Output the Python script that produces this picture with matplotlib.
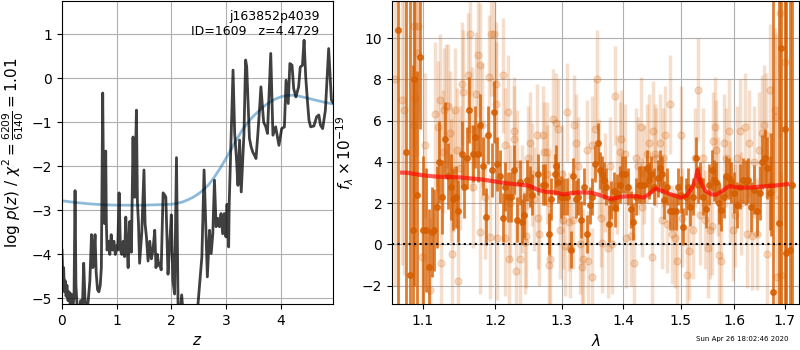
import numpy as np
import matplotlib
matplotlib.use("Agg")
import matplotlib.pyplot as plt
from matplotlib.ticker import FixedLocator, FixedFormatter, NullLocator

# ---------------- left panel: log p(z) ----------------
z_grid = [0.000, 0.015, 0.030, 0.045, 0.060, 0.075, 0.090, 0.110, 0.130, 0.150,
          0.170, 0.200, 0.220, 0.239, 0.255, 0.280, 0.310, 0.340, 0.370, 0.397,
          0.420, 0.450, 0.480, 0.510, 0.540, 0.565, 0.585, 0.605, 0.625, 0.650,
          0.675, 0.700, 0.720, 0.745, 0.765, 0.780, 0.800, 0.812, 0.825, 0.850,
          0.875, 0.900, 0.925, 0.950, 0.975, 1.000, 1.020, 1.045, 1.070, 1.095,
          1.120, 1.145, 1.167, 1.190, 1.210, 1.240, 1.270, 1.300, 1.315, 1.330,
          1.362, 1.380, 1.400, 1.420, 1.460, 1.500, 1.520, 1.545, 1.575, 1.606,
          1.636, 1.665, 1.697, 1.720, 1.745, 1.770, 1.790, 1.815, 1.850, 1.880,
          1.900, 1.940, 1.970, 2.000, 2.030, 2.060, 2.095, 2.125, 2.160, 2.190,
          2.220, 2.300, 2.400, 2.490, 2.560, 2.600, 2.660, 2.700, 2.730, 2.760,
          2.790, 2.820, 2.850, 2.880, 2.910, 2.940, 2.970, 3.000, 3.020, 3.050,
          3.060, 3.130, 3.160, 3.190, 3.220, 3.250, 3.280, 3.330, 3.360, 3.380,
          3.430, 3.460, 3.490, 3.520, 3.550, 3.580, 3.610, 3.640, 3.690, 3.730,
          3.760, 3.820, 3.860, 3.910, 3.970, 4.020, 4.070, 4.100, 4.140, 4.170,
          4.210, 4.240, 4.280, 4.330, 4.360, 4.400, 4.430, 4.460, 4.490, 4.520,
          4.550, 4.610, 4.660, 4.700, 4.730, 4.770, 4.820, 4.880, 4.930, 4.960]
log_pz = [-3.90, -4.55, -4.30, -4.85, -4.60, -4.95, -4.70, -5.05, -4.85, -5.15,
          -4.90, -5.20, -4.95, -2.55, -4.70, -5.25, -5.35, -5.05, -5.35, -4.20,
          -5.00, -5.35, -5.05, -4.60, -3.55, -4.30, -4.00, -3.55, -4.40, -4.80,
          -4.85, -4.70, -4.30, -0.33, -3.20, -3.30, -1.65, -3.30, -3.90, -3.70,
          -4.00, -3.55, -3.90, -3.70, -4.00, -3.80, -3.90, -2.60, -3.90, -4.00,
          -3.70, -4.05, -3.15, -3.80, -4.30, -3.25, -3.95, -1.33, -2.60, -2.70,
          -0.72, -2.80, -3.30, -4.20, -3.50, -2.08, -3.30, -3.60, -4.15, -3.70,
          -4.10, -3.90, -3.45, -4.30, -4.00, -4.25, -4.20, -4.35, -2.60, -2.65,
          -2.70, -4.45, -3.80, -3.10, -4.60, -4.90, -1.80, -5.30, -5.40, -4.92,
          -5.40, -5.60, -5.60, -5.11, -4.05, -2.08, -4.51, -3.45, -3.98, -3.53,
          -2.31, -3.37, -3.18, -3.37, -3.07, -3.53, -3.07, -3.60, -2.86, -3.83,
          -2.84, 0.19, -1.25, -1.78, -2.43, -1.40, -2.58, -1.25, 0.42, 0.27,
          -1.36, -1.55, -1.67, -1.74, -1.82, -1.33, -0.80, -0.19, -0.99, -1.10,
          -1.25, 0.57, -1.29, -1.10, -1.52, -1.14, -1.10, -0.04, -0.57, 0.34,
          0.30, -0.23, -0.42, -0.19, 0.26, 0.30, 0.87, 0.04, -0.49, -0.95,
          -1.10, -1.08, -0.87, -0.83, -1.06, -1.14, -0.72, 0.68, -0.49, -0.55]

z_prior = [0.00, 0.25, 0.50, 0.75, 1.00, 1.25, 1.50, 1.75, 2.00, 2.10, 2.20,
           2.30, 2.40, 2.50, 2.60, 2.70, 2.80, 2.90, 3.00, 3.10, 3.20, 3.30,
           3.40, 3.50, 3.60, 3.70, 3.80, 3.90, 4.00, 4.10, 4.20, 4.30, 4.40,
           4.50, 4.60, 4.70, 4.80, 4.96]
log_prior = [-2.78, -2.82, -2.85, -2.87, -2.88, -2.88, -2.88, -2.87, -2.86, -2.84,
             -2.81, -2.76, -2.70, -2.62, -2.52, -2.39, -2.22, -2.03, -1.82, -1.60,
             -1.38, -1.17, -1.00, -0.86, -0.74, -0.63, -0.54, -0.47, -0.42, -0.39,
             -0.38, -0.39, -0.42, -0.45, -0.48, -0.51, -0.54, -0.58]

# ---------------- right panel: spectrum ----------------
lam_a = [1.068, 1.078, 1.083, 1.087, 1.089, 1.093, 1.097, 1.101, 1.104, 1.108,
         1.112, 1.115, 1.119, 1.122, 1.126, 1.130, 1.134, 1.138, 1.141, 1.145,
         1.148, 1.153, 1.156, 1.160, 1.163, 1.168, 1.171, 1.176, 1.179, 1.183,
         1.187, 1.190, 1.195, 1.199, 1.203, 1.207, 1.211, 1.215, 1.219, 1.223,
         1.227, 1.232, 1.236, 1.239, 1.243, 1.247,
         1.251, 1.255, 1.264, 1.272, 1.275, 1.280, 1.283, 1.289, 1.292, 1.295,
         1.299, 1.304, 1.308, 1.315, 1.318, 1.322, 1.326, 1.331, 1.336, 1.341,
         1.345, 1.349, 1.353, 1.358, 1.361, 1.365, 1.368, 1.372, 1.377, 1.380,
         1.384, 1.386, 1.390, 1.394, 1.398, 1.403, 1.408, 1.413, 1.417, 1.422,
         1.427, 1.431, 1.436, 1.440, 1.444, 1.448, 1.453, 1.459, 1.463,
         1.466, 1.470, 1.476, 1.481, 1.487, 1.491, 1.496, 1.500, 1.505, 1.509,
         1.514, 1.518, 1.523, 1.528, 1.532, 1.536, 1.541, 1.547, 1.552, 1.557,
         1.561, 1.566, 1.571, 1.575, 1.580, 1.585, 1.589, 1.593, 1.599, 1.605,
         1.611, 1.617, 1.622, 1.627, 1.633, 1.638, 1.644, 1.650, 1.655, 1.660,
         1.664, 1.670, 1.673, 1.676, 1.688, 1.692, 1.700, 1.703, 1.710, 1.715]
flux_a = [10.4, 4.5, -1.5, 0.7, 8.0, 2.4, 9.1, 0.7, 0.7, -1.1,
          0.6, 0.7, 1.8, 4.0, 2.3, 5.1, 3.3, 2.8, 2.2, 2.3,
          1.6, 4.4, 2.8, 4.2, 6.5, 4.4, 5.2, 4.4, 5.8, 3.8,
          1.35, 5.3, 3.6, 6.4, 3.9, 3.3, 1.3, 2.8, 2.3, 2.3,
          3.6, 1.2, 3.0, 1.1, 1.4, 3.1,
          2.8, 2.4, 3.4, 2.9, 2.9, 0.5, 2.2, 3.4, 3.8, 3.0,
          2.3, 2.3, 2.3, -0.25, 3.3, 2.2, 2.3, 1.2, 2.8, 0.5,
          1.9, 2.3, 3.9, 4.9, 3.6, 3.4, 3.1, 2.8, 1.0, 2.15,
          2.6, 1.75, 2.5, 2.9, 3.4, 3.4, 2.8, 1.7, 1.1, 2.3,
          2.9, 2.9, 2.9, 3.7, 3.1, 3.4, 2.8, 3.2, 3.7,
          3.4, 2.15, 2.8, 1.6, 1.6, 1.6, 2.8, 2.4, 0.85, 2.3,
          2.8, 1.8, 2.3, 4.2, 2.9, 3.1, 2.3, 1.7, 2.9, 3.6,
          3.1, 3.0, 2.0, 1.65, 2.3, 3.3, 3.2, 3.0, 2.5, 1.9,
          2.8, 3.1, 3.0, 3.1, 1.8, 2.65, 1.6, 2.5, 4.0, 4.2,
          3.7, 2.5, 2.9, -2.3, 1.05, 9.5, 5.6, -0.44, -0.28, 2.9]
err_a = [20.0, 15.0, 15.0, 8.0, 10.0, 6.0, 3.5, 3.6, 3.0, 2.8,
         2.2, 2.0, 2.0, 2.0, 1.8, 1.8, 1.6, 1.6, 1.5, 1.5,
         1.5, 1.6, 1.5, 1.5, 1.6, 1.4, 1.5, 1.4, 1.5, 1.4,
         1.4, 1.4, 1.3, 1.5, 1.3, 1.3, 1.2, 1.2, 1.2, 1.2,
         1.2, 1.1, 1.1, 1.1, 1.1, 1.0,
         1.0, 1.0, 1.0, 1.0, 1.0, 1.0, 1.0, 1.0, 1.0, 1.0,
         1.0, 0.9, 0.9, 0.9, 0.9, 0.9, 0.9, 0.9, 0.9, 0.9,
         0.9, 0.9, 0.9, 1.0, 0.9, 0.9, 0.9, 0.9, 0.9, 0.9,
         0.9, 0.9, 0.9, 0.9, 0.9, 0.9, 0.9, 0.9, 0.9, 0.9,
         0.9, 0.9, 0.9, 0.9, 0.9, 0.9, 0.9, 0.9, 0.9,
         0.9, 0.9, 0.9, 0.9, 0.9, 0.9, 0.9, 0.9, 0.9, 0.9,
         0.9, 0.9, 0.9, 1.0, 0.9, 0.9, 0.9, 0.9, 1.0, 1.0,
         1.0, 1.0, 1.0, 1.0, 1.0, 1.0, 1.0, 1.0, 1.0, 1.1,
         1.1, 1.1, 1.1, 1.1, 1.2, 1.2, 1.2, 1.3, 1.3, 1.4,
         1.5, 1.8, 2.5, 15.0, 12.0, 15.0, 20.0, 15.0, 20.0, 20.0]

lam_b = [1.064, 1.073, 1.076, 1.088, 1.089, 1.090, 1.093, 1.094, 1.099, 1.103,
         1.110, 1.117, 1.121, 1.123, 1.124, 1.127, 1.128, 1.131, 1.134, 1.137,
         1.138, 1.139, 1.141, 1.144, 1.146, 1.148, 1.151, 1.153, 1.155, 1.162,
         1.165, 1.167, 1.169, 1.173, 1.176, 1.178, 1.179, 1.181, 1.186, 1.192,
         1.193, 1.194, 1.199, 1.201, 1.202, 1.203, 1.212, 1.214, 1.215, 1.219,
         1.220, 1.222, 1.227, 1.228, 1.230, 1.232, 1.237, 1.239, 1.244, 1.246,
         1.248, 1.252, 1.254, 1.257, 1.262, 1.263, 1.265, 1.272, 1.273, 1.277,
         1.278, 1.280, 1.281, 1.282, 1.287, 1.292, 1.295, 1.297, 1.300, 1.303,
         1.306, 1.309, 1.312, 1.313, 1.318, 1.320, 1.322, 1.326, 1.329, 1.332,
         1.334, 1.340, 1.342, 1.348, 1.349, 1.354, 1.356, 1.360, 1.363, 1.365,
         1.369, 1.375, 1.378, 1.382, 1.387, 1.390, 1.394, 1.397, 1.403, 1.405,
         1.414, 1.418, 1.422, 1.425, 1.430, 1.432, 1.435, 1.440, 1.444, 1.449,
         1.451, 1.454, 1.457, 1.463, 1.466, 1.468, 1.472, 1.476, 1.481, 1.485,
         1.490, 1.494, 1.500, 1.502, 1.512, 1.516, 1.523, 1.527, 1.532, 1.535,
         1.541, 1.544, 1.551, 1.554, 1.557, 1.560, 1.563, 1.566, 1.570, 1.571,
         1.574, 1.580, 1.584, 1.589, 1.592, 1.597, 1.601, 1.606, 1.611, 1.614,
         1.621, 1.624, 1.629, 1.634, 1.639, 1.644, 1.649, 1.654, 1.658, 1.662,
         1.665, 1.670, 1.681, 1.683, 1.684, 1.691, 1.693, 1.700]
flux_b = [8.0, 7.0, 6.5, 10.6, 5.8, 7.1, 9.3, 10.6, -0.6, 4.8,
          -2.2, 6.3, 5.7, 7.0, -0.9, 4.5, 6.5, 6.7, 6.7, 5.4,
          3.1, -0.45, 3.6, 6.5, 4.6, -1.8, 3.7, 7.8, 7.4, 8.2,
          10.2, 5.6, 2.8, 7.3, 9.2, 8.7, 0.6, 5.8, 2.3, 8.1,
          0.35, 10.2, 10.2, 6.8, 7.8, 0.3, 8.2, 4.8, 0.3, 6.4,
          -0.7, 2.0, 5.1, 5.5, -1.3, 3.9, -0.7, 2.2, 0.1, 0.4,
          4.2, 4.9, 3.4, 2.2, 5.3, 1.3, 0.5, 5.3, 4.5, 4.5,
          3.4, 2.0, -1.0, -0.7, 6.1, 5.9, 5.6, 0.7, 3.4, 1.2,
          -0.1, 6.4, 1.1, -0.2, 1.2, 5.8, 4.9, 3.8, 0.0, -1.1,
          -0.7, 4.6, -0.8, 4.8, -1.6, 5.6, 8.0, 3.7, 1.3, 0.05,
          3.0, -0.2, 3.8, 0.0, 7.2, 2.9, 4.5, 5.1, 4.4, 0.3,
          0.4, -0.9, 4.2, 3.8, 5.7, 1.8, 3.4, 4.4, 4.9, -0.6,
          5.5, 4.4, 4.2, 4.9, 1.2, 4.2, 5.3, 1.0, 6.8, 0.5,
          0.3, -0.8, 5.3, 1.3, -1.5, -0.3, 0.7, 4.2, 7.5, 1.4,
          4.2, 1.2, -0.2, 0.7, 0.9, 5.0, 5.7, 4.6, 2.8, -0.5,
          -0.8, 4.9, 4.2, 5.5, 2.5, 0.7, 1.4, 4.2, 5.5, 2.0,
          5.7, 0.5, 4.9, 0.4, 4.0, 0.5, 4.6, 5.4, 5.8, 5.3,
          -0.45, 7.5, 6.5, 6.2, -1.6, 11.2, -1.5, 8.85]
err_b = [10.0, 8.0, 8.0, 6.0, 6.0, 5.0, 5.0, 4.5, 4.0, 3.5,
         3.5, 3.5, 3.2, 3.2, 3.0, 3.0, 3.0, 3.0, 3.0, 3.0,
         3.0, 3.0, 3.0, 3.0, 3.0, 3.0, 3.0, 3.0, 3.0, 3.0,
         3.0, 3.0, 3.0, 3.0, 3.0, 3.0, 3.0, 3.0, 3.0, 3.0,
         3.0, 3.0, 3.0, 3.0, 3.0, 3.0, 2.8, 2.8, 2.8, 2.8,
         2.8, 2.8, 2.6, 2.6, 2.6, 2.6, 2.6, 2.6, 2.5, 2.5,
         2.5, 2.5, 2.5, 2.5, 2.5, 2.5, 2.5, 2.4, 2.4, 2.4,
         2.4, 2.4, 2.4, 2.4, 2.4, 2.4, 2.4, 2.4, 2.4, 2.4,
         2.4, 2.4, 2.4, 2.4, 2.4, 2.4, 2.4, 2.4, 2.4, 2.4,
         2.4, 2.4, 2.4, 2.4, 2.4, 2.4, 2.4, 2.4, 2.4, 2.4,
         2.4, 2.4, 2.4, 2.4, 2.4, 2.4, 2.4, 2.4, 2.4, 2.4,
         2.4, 2.4, 2.4, 2.4, 2.4, 2.4, 2.4, 2.4, 2.4, 2.4,
         2.4, 2.4, 2.4, 2.4, 2.4, 2.4, 2.4, 2.4, 2.4, 2.4,
         2.4, 2.4, 2.4, 2.4, 2.4, 2.4, 2.4, 2.4, 2.5, 2.4,
         2.4, 2.4, 2.4, 2.4, 2.4, 2.4, 2.4, 2.4, 2.4, 2.4,
         2.4, 2.4, 2.4, 2.5, 2.5, 2.5, 2.5, 2.5, 2.5, 2.5,
         2.6, 2.6, 2.6, 2.6, 2.7, 2.7, 2.8, 2.8, 2.9, 3.0,
         3.0, 3.2, 4.0, 4.0, 4.0, 6.0, 5.0, 8.0]

lam_model = [1.073, 1.080, 1.100, 1.120, 1.150, 1.180, 1.200, 1.220, 1.250, 1.263,
             1.275, 1.290, 1.303, 1.318, 1.334, 1.348, 1.360, 1.380, 1.400, 1.420,
             1.435, 1.445, 1.455, 1.465, 1.480, 1.500, 1.510, 1.520, 1.526, 1.531,
             1.536, 1.545, 1.556, 1.565, 1.575, 1.590, 1.610, 1.630, 1.650, 1.680,
             1.705]
flux_model = [3.48, 3.47, 3.35, 3.28, 3.25, 3.15, 3.05, 2.95, 2.85, 2.65,
              2.55, 2.52, 2.42, 2.50, 2.52, 2.50, 2.40, 2.20, 2.32, 2.34,
              2.27, 2.45, 2.70, 2.62, 2.45, 2.26, 2.35, 2.70, 3.05, 3.60,
              3.05, 2.60, 2.43, 2.40, 2.55, 2.82, 2.75, 2.75, 2.80, 2.85,
              2.92]

xticks_right = [1.1, 1.2, 1.3, 1.4, 1.5, 1.6, 1.7]
xtick_labels_right = ['1.1', '1.2', '1.3', '1.4', '1.5', '1.6', '1.7']

GRISM_COLOR = (0.8352941176470589, 0.3686274509803922, 0.0)

fig = plt.figure(figsize=(8, 3.5), dpi=100)
ax1 = fig.add_axes([0.0775, 0.131, 0.3388, 0.866])
ax2 = fig.add_axes([0.490, 0.131, 0.509, 0.866])

# left panel
ax1.plot(z_prior, log_prior, color='#1f77b4', alpha=0.5, lw=2)
ax1.plot(z_grid, log_pz, color='k', alpha=0.75, lw=2)
ax1.set_xlim(0, 4.96)
ax1.set_ylim(-5.13, 1.76)
ax1.set_xticks([0, 1, 2, 3, 4])
ax1.set_yticks([-5, -4, -3, -2, -1, 0, 1])
ax1.grid(True)
ax1.set_axisbelow(True)
ax1.set_xlabel(r'$z$', fontsize=11)
ax1.set_ylabel(r'$\log\,p(z)$' + ' / ' + r'$\chi^2=\frac{6209}{6140}=1.01$', fontsize=11)
ax1.text(0.95, 0.97, 'j163852p4039\nID=1609   z=4.4729', transform=ax1.transAxes,
         ha='right', va='top', fontsize=9)

# right panel
ax2.set_xscale('log')
ax2.errorbar(lam_b, flux_b, yerr=err_b, color=GRISM_COLOR, alpha=0.2,
             marker='o', ms=5, linestyle='None', elinewidth=2.5, zorder=1)
ax2.errorbar(lam_a, flux_a, yerr=err_a, color=GRISM_COLOR, alpha=0.8,
             marker='o', ms=4, linestyle='None', elinewidth=2.0, zorder=2)
ax2.plot(lam_model, flux_model, color='r', alpha=0.65, lw=3, zorder=3)
ax2.axhline(0, color='k', linestyle=':', lw=1.5, zorder=4)
ax2.set_xlim(1.0602, 1.730)
ax2.set_ylim(-2.9, 11.8)
ax2.xaxis.set_major_locator(FixedLocator(xticks_right))
ax2.xaxis.set_major_formatter(FixedFormatter(xtick_labels_right))
ax2.xaxis.set_minor_locator(NullLocator())
ax2.set_yticks([-2, 0, 2, 4, 6, 8, 10])
ax2.grid(True)
ax2.set_axisbelow(True)
ax2.set_xlabel(r'$\lambda$', fontsize=11)
ax2.set_ylabel(r'$f_\lambda\times10^{-19}$', fontsize=11)

fig.text(0.985, 0.022, 'Sun Apr 26 18:02:46 2020', ha='right', va='bottom', fontsize=5)

fig.savefig('out.png', dpi=100)
